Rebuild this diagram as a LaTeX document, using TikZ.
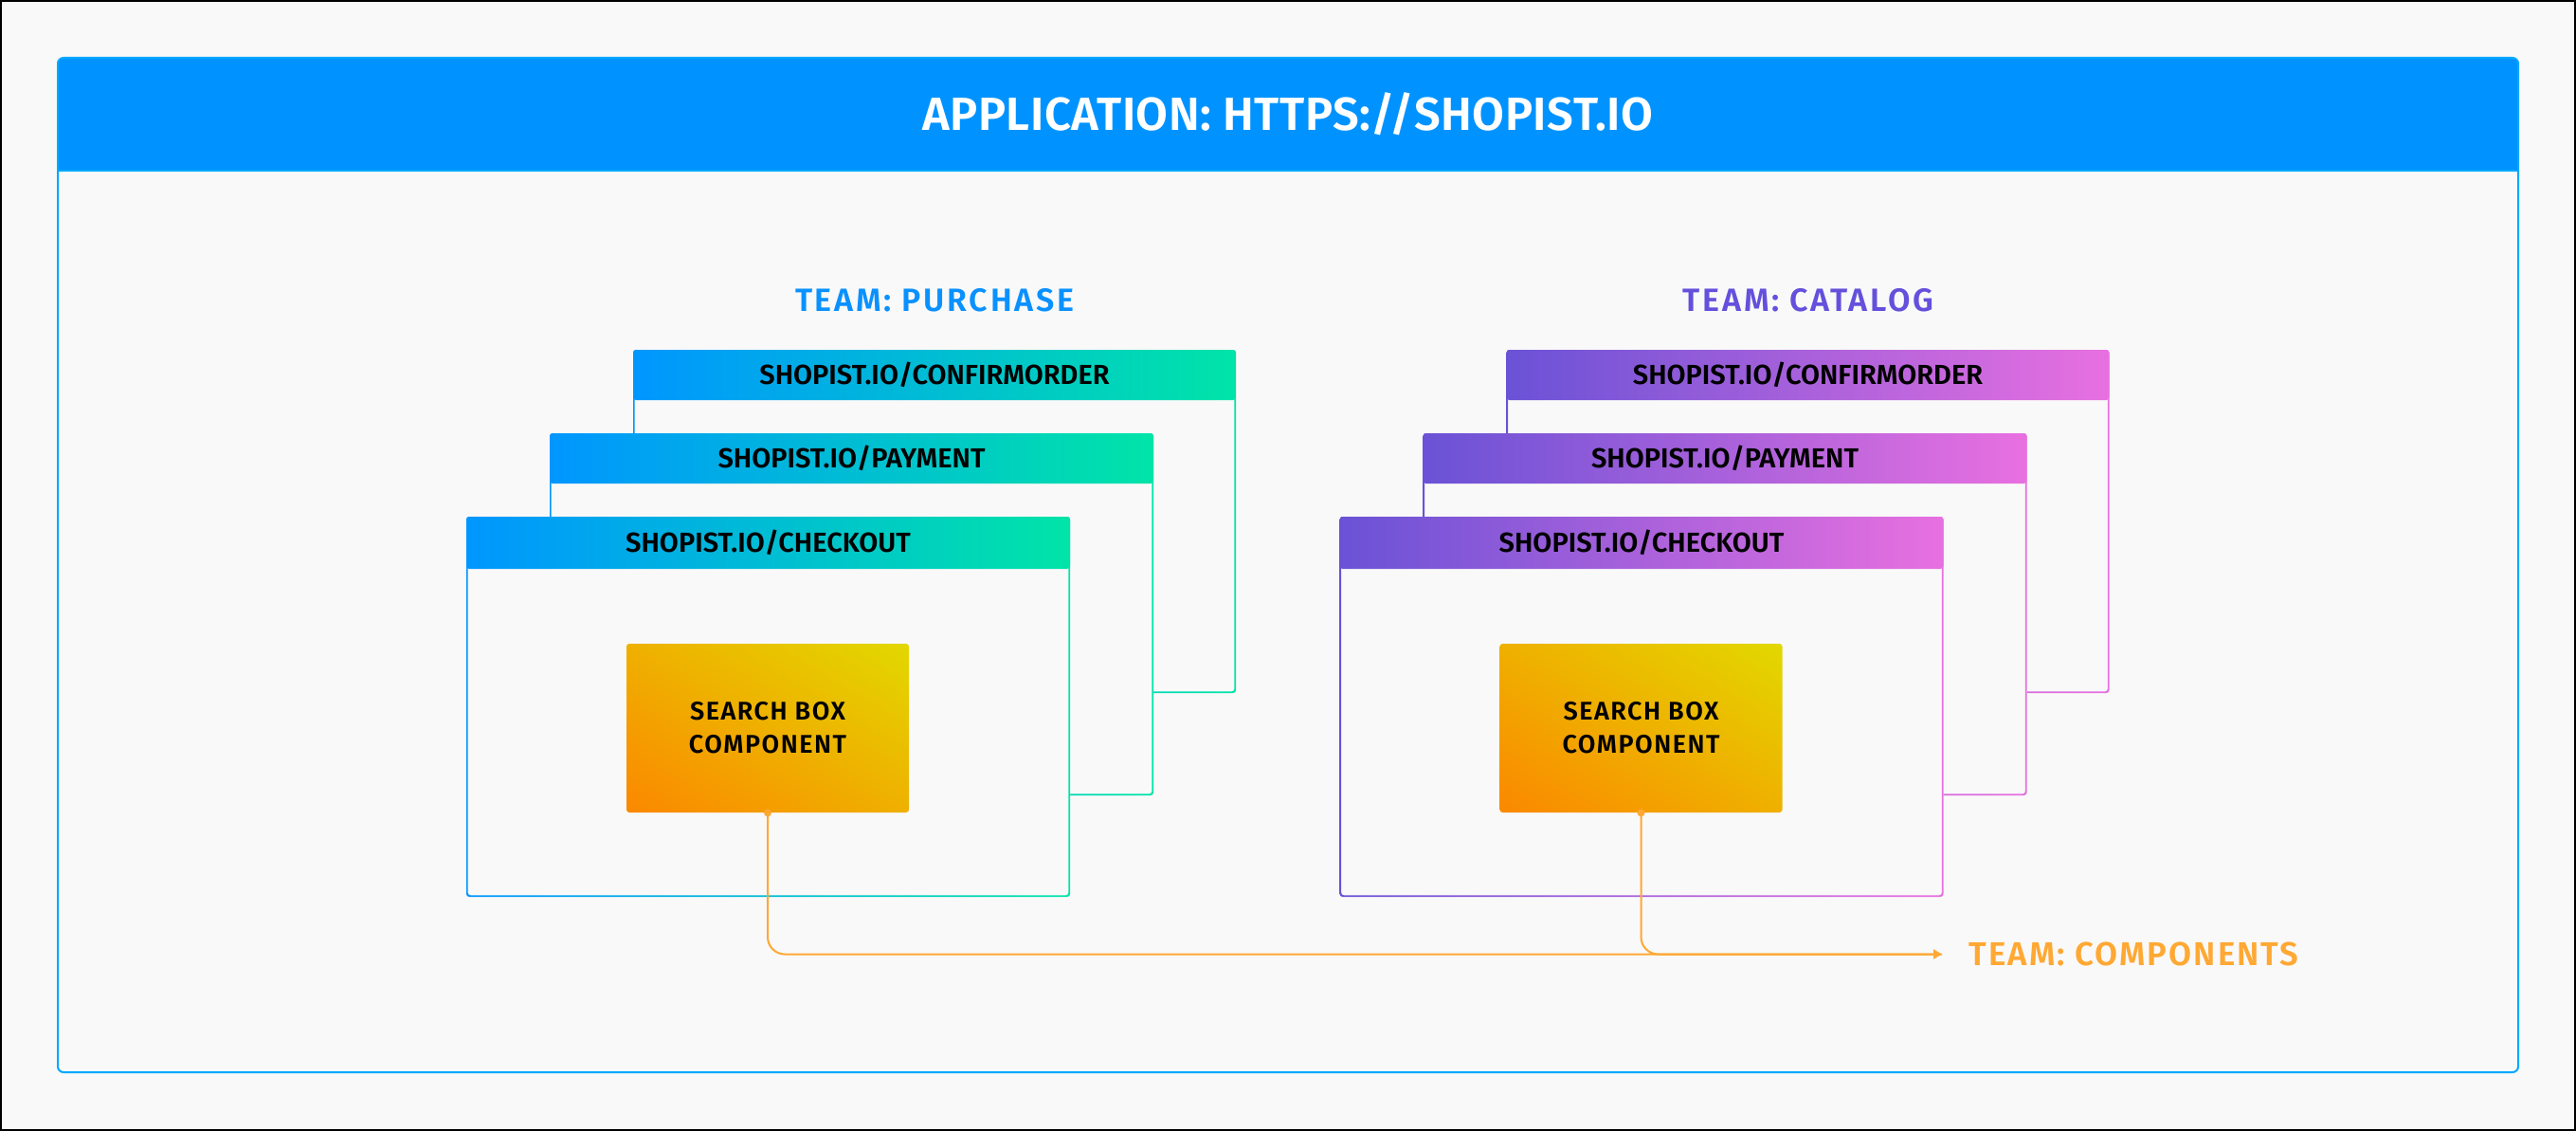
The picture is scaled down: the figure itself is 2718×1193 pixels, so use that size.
\documentclass[tikz,border=0pt]{standalone}
\usepackage{fontspec}
\setmainfont{Fira Sans}[BoldFont={Fira Sans SemiBold}]
\usetikzlibrary{arrows.meta,shadings}
\definecolor{bgc}{HTML}{F9F9F9}
\definecolor{contline}{HTML}{00A8FF}
\definecolor{conthead}{HTML}{0093FF}
\definecolor{pA}{HTML}{0096FF}
\definecolor{pB}{HTML}{00E4A8}
\definecolor{cA}{HTML}{6A52D6}
\definecolor{cB}{HTML}{E870E0}
\definecolor{purtxt}{HTML}{0A91FF}
\definecolor{cattxt}{HTML}{6450DC}
\definecolor{compor}{HTML}{FFA833}
\definecolor{sbLL}{HTML}{FB8800}
\definecolor{sbUR}{HTML}{E2D800}
\definecolor{sbMid}{HTML}{EFB000}
\tikzset{
  pagehead/.style={rounded corners=1.5pt,inner sep=0pt,text=black,
    font=\fontsize{14.5}{16}\selectfont\bfseries},
  sbox/.style={rounded corners=1.5pt,inner sep=0pt,align=center,
    lower left=sbLL,upper right=sbUR,lower right=sbMid,upper left=sbMid,
    minimum width=149pt,minimum height=89pt,text=black,
    font=\fontsize{13.5}{17.5}\selectfont\bfseries\addfontfeature{LetterSpace=5.6}},
  teamlbl/.style={inner sep=0pt,font=\fontsize{17}{19}\selectfont\bfseries\addfontfeature{LetterSpace=8}},
  conn/.style={compor,line width=1pt},
}
\newcommand\stackpage[9]{%
  \fill[bgc,rounded corners=1.5pt] (#1,#2) rectangle (#3,#4);
  \shade[left color=#6,right color=#7,even odd rule,rounded corners=1.5pt]
    (#1,#2) rectangle (#3,#4) ({#1+1.6},{#2+1.6}) rectangle ({#3-1.6},{#4-1.6});
  \node[pagehead,left color=#6,right color=#7,
    minimum width={(#3-#1)*0.5pt},minimum height={(#5-#2)*0.5pt}]
    (#8) at ({(#1+#3)/2},{(#2+#5)/2}) {#9};
}
\begin{document}
\begin{tikzpicture}[x=0.5pt,y=-0.5pt]
\useasboundingbox (0,0) rectangle (2718,1193);
\fill[bgc] (0,0) rectangle (2718,1193);
\draw[line width=1pt,black] (1,1) rectangle (2717,1192);
% container
\fill[bgc,rounded corners=3pt] (61,61) rectangle (2657,1131);
\fill[conthead,rounded corners=3pt] (61,61) rectangle (2657,180);
\fill[conthead] (61,120) rectangle (2657,180);
\draw[contline,line width=1pt,rounded corners=3pt] (61,61) rectangle (2657,1131);
\draw[contline,line width=1pt] (61,180) -- (2657,180);
\node[inner sep=0pt,text=white,font=\fontsize{24.5}{27}\selectfont\bfseries\addfontfeature{LetterSpace=1}]
  (title) at (1359,120) {APPLICATION: HTTPS://SHOPIST.IO};
% team labels
\node[teamlbl,text=purtxt] (tpur) at (986,317) {TEAM: PURCHASE};
\node[teamlbl,text=cattxt] (tcat) at (1908,317) {TEAM: CATALOG};
% purchase stack
\stackpage{668}{369}{1304}{731}{422}{pA}{pB}{pconf}{SHOPIST.IO/CONFIRMORDER}
\stackpage{580}{457}{1217}{839}{510}{pA}{pB}{ppay}{SHOPIST.IO/PAYMENT}
\stackpage{492}{545}{1129}{946}{600}{pA}{pB}{pchk}{SHOPIST.IO/CHECKOUT}
% catalog stack
\stackpage{1589.5}{369}{2225.5}{731}{422}{cA}{cB}{cconf}{SHOPIST.IO/CONFIRMORDER}
\stackpage{1501.5}{457}{2138.5}{839}{510}{cA}{cB}{cpay}{SHOPIST.IO/PAYMENT}
\stackpage{1413.5}{545}{2050.5}{946}{600}{cA}{cB}{cchk}{SHOPIST.IO/CHECKOUT}
% search boxes
\node[sbox] (sbP) at (810,768) {SEARCH BOX\\COMPONENT};
\node[sbox] (sbC) at (1731.5,768) {SEARCH BOX\\COMPONENT};
% components label
\node[inner sep=0pt,anchor=west,text=compor,font=\fontsize{17.4}{19}\selectfont\bfseries\addfontfeature{LetterSpace=6}]
  (comp) at (2077,1006.5) {TEAM: COMPONENTS};
% connectors
\draw[conn,rounded corners=9pt] (sbC.south) |- ([xshift=-14pt]comp.west);
\draw[conn,rounded corners=9pt,-{Triangle[length=4.5pt,width=5pt]}] (sbP.south) |- ([xshift=-14pt]comp.west);
\fill[compor] (sbP.south) circle (2pt);
\fill[compor] (sbC.south) circle (2pt);
\end{tikzpicture}
\end{document}
